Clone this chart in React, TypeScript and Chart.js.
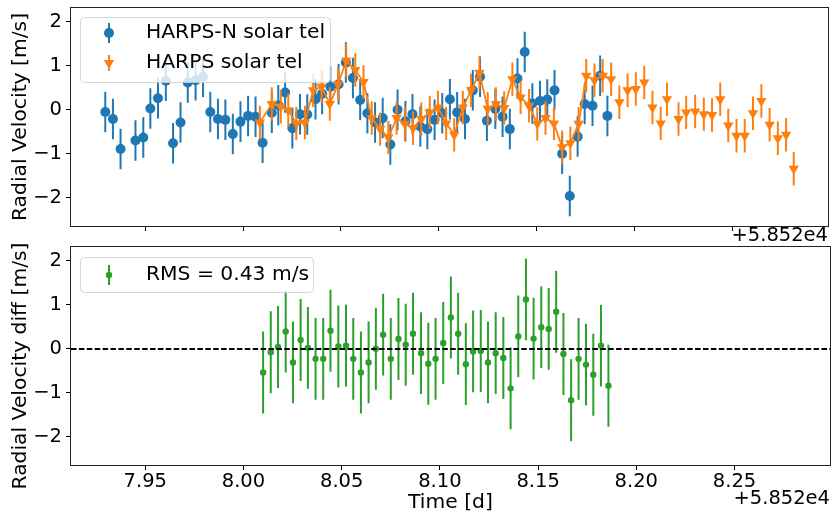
import React, { useEffect, useRef } from "react";
import { Chart, registerables } from "chart.js";

Chart.register(...registerables);

// ---------------- data (time in days, offset +58520) ----------------
const OFFSET_TEXT = "+5.852e4";
const X_TICKS = [7.95, 8.0, 8.05, 8.1, 8.15, 8.2, 8.25];
const Y_TICKS = [-2, -1, 0, 1, 2];
const X_MIN = 7.9122;
const X_MAX = 8.2986;
const Y_MIN = -2.64;
const Y_MAX = 2.31;

const HARPSN_LABEL = "HARPS-N solar tel";
const harpsNTime = [
  7.9297, 7.9336, 7.9375, 7.9451, 7.9491, 7.9527, 7.9566, 7.9606, 7.9643, 7.9681,
  7.9718, 7.9758, 7.9796, 7.9833, 7.9872, 7.991, 7.9948, 7.9987, 8.0026, 8.0064,
  8.01, 8.0147, 8.018, 8.0215, 8.0252, 8.0291, 8.0328, 8.037, 8.0404, 8.0446,
  8.0488, 8.0525, 8.0561, 8.0598, 8.0635, 8.0674, 8.0713, 8.0752, 8.0789, 8.0829,
  8.0865, 8.0905, 8.0941, 8.0978, 8.1017, 8.1056, 8.1093, 8.1133, 8.1173, 8.121,
  8.1245, 8.1288, 8.1325, 8.1362, 8.1401, 8.1438, 8.1477, 8.1516, 8.1553, 8.159,
  8.1629, 8.1668, 8.1708, 8.1744, 8.1784, 8.1823, 8.186,
];
const harpsNRv = [
  -0.05, -0.21, -0.89, -0.7, -0.63, 0.03, 0.26, 0.66, -0.76, -0.29,
  0.62, 0.67, 0.75, -0.05, -0.21, -0.23, -0.55, -0.27, -0.14, -0.16,
  -0.75, -0.07, 0.1, 0.39, -0.42, -0.1, -0.11, 0.24, 0.36, 0.52,
  0.58, 1.07, 0.72, 0.22, -0.08, -0.29, -0.19, -0.79, 0.0, -0.26,
  -0.1, -0.38, -0.44, -0.23, -0.08, 0.24, -0.06, -0.21, 0.44, 0.75,
  -0.25, 0.02, -0.16, -0.44, 0.71, 1.31, 0.14, 0.2, 0.23, 0.44,
  -1.0, -1.96, -0.61, 0.13, 0.09, 0.77, -0.14,
];
const HARPSN_ERR = 0.46;

const HARPS_LABEL = "HARPS solar tel";
const harpsTime = [
  8.0086, 8.0147, 8.0193, 8.0231, 8.0272, 8.0316, 8.0358, 8.0401, 8.0443, 8.0485,
  8.0527, 8.0573, 8.0615, 8.0657, 8.07, 8.0742, 8.0784, 8.0826, 8.0868, 8.091,
  8.0953, 8.0995, 8.1037, 8.1078, 8.1122, 8.1164, 8.1207, 8.1249, 8.1291, 8.1333,
  8.1375, 8.1417, 8.146, 8.1502, 8.1544, 8.1587, 8.1629, 8.1671, 8.1713, 8.1752,
  8.1794, 8.1836, 8.1879, 8.1921, 8.1963, 8.2005, 8.2048, 8.209, 8.2132, 8.2164,
  8.2223, 8.2262, 8.2308, 8.2352, 8.2394, 8.2436, 8.2477, 8.2519, 8.2561, 8.2603,
  8.2646, 8.2688, 8.273, 8.2772, 8.2811,
];
const harpsRv = [
  -0.29, 0.13, 0.07, -0.01, -0.31, -0.29, 0.44, 0.52, 0.13, 0.58,
  1.12, 0.9, 0.63, -0.19, -0.44, -0.63, -0.19, -0.32, -0.42, -0.21,
  -0.06, 0.05, -0.31, -0.57, 0.05, 0.44, 0.84, 0.02, 0.13, 0.04,
  0.69, 0.28, 0.09, -0.32, -0.19, -0.31, -0.85, -0.76, -0.32, 0.77,
  0.67, 0.77, 0.69, 0.17, 0.44, 0.47, 0.62, 0.05, -0.31, 0.24,
  -0.21, -0.06, -0.04, -0.1, -0.12, 0.24, -0.36, -0.59, -0.59, -0.08,
  0.2, -0.34, -0.65, -0.57, -1.34,
];
const HARPS_ERR = 0.38;
const HARPS_LINE_END = 8.185; // connecting line only over the overlap period

const DIFF_LABEL = "RMS = 0.43 m/s";
const diffTime = [
  8.01, 8.0139, 8.0176, 8.0215, 8.0252, 8.0291, 8.0328, 8.0367, 8.0406, 8.0443,
  8.0483, 8.0522, 8.0559, 8.0598, 8.0637, 8.0674, 8.0711, 8.075, 8.0789, 8.0826,
  8.0863, 8.0904, 8.0941, 8.0978, 8.1017, 8.1056, 8.1093, 8.1132, 8.1169, 8.1208,
  8.1245, 8.1284, 8.1323, 8.136, 8.1399, 8.1438, 8.1477, 8.1516, 8.1554, 8.1592,
  8.1629, 8.1668, 8.1706, 8.1744, 8.1781, 8.182, 8.1858,
];
const diffRv = [
  -0.54, -0.08, 0.04, 0.39, -0.31, 0.2, 0.02, -0.23, -0.23, 0.41,
  0.05, 0.07, -0.23, -0.54, -0.31, 0.0, 0.32, -0.23, 0.22, 0.09,
  0.34, -0.1, -0.34, -0.23, 0.13, 0.71, 0.34, -0.35, -0.06, -0.05,
  -0.31, -0.1, -0.21, -0.9, 0.28, 1.12, 0.23, 0.49, 0.45, 0.84,
  -0.12, -1.17, -0.23, -0.36, -0.59, 0.07, -0.84,
];
const DIFF_ERR = 0.93;

const Y_LABEL_TOP = "Radial Velocity [m/s]";
const Y_LABEL_BOTTOM = "Radial Velocity diff [m/s]";
const X_LABEL = "Time [d]";

// ---------------- styling ----------------
const BLUE = "#1f77b4";
const ORANGE = "#ff7f0e";
const GREEN = "#2ca02c";
const FONT = "DejaVu Sans";
const TICK_PX = 19.5;
const LABEL_PX = 20.3;
const W = 834;
const TOP_H = 246;
const BOT_TOP = 220;
const BOT_H = 295;

const toPts = (xs: number[], ys: number[]) => xs.map((x, i) => ({ x, y: ys[i] }));
const fmtY = (v: number) => (v < 0 ? "\u2212" + Math.abs(v) : String(v));

const errorBarPlugin = {
  id: "errorBars",
  beforeDatasetDraw(chart: any, args: any) {
    const ds = chart.data.datasets[args.index];
    if (ds.errors == null) return;
    const ctx = chart.ctx;
    const ys = chart.scales.y;
    const a = chart.chartArea;
    ctx.save();
    ctx.beginPath();
    ctx.rect(a.left, a.top, a.right - a.left, a.bottom - a.top);
    ctx.clip();
    ctx.beginPath();
    ctx.strokeStyle = ds.errColor;
    ctx.lineWidth = 2;
    args.meta.data.forEach((el: any, i: number) => {
      const v = ds.data[i].y;
      const e = Array.isArray(ds.errors) ? ds.errors[i] : ds.errors;
      ctx.moveTo(el.x, ys.getPixelForValue(v - e));
      ctx.lineTo(el.x, ys.getPixelForValue(v + e));
    });
    ctx.stroke();
    ctx.restore();
  },
};

function roundRect(ctx: CanvasRenderingContext2D, x: number, y: number, w: number, h: number, r: number) {
  ctx.beginPath();
  ctx.moveTo(x + r, y);
  ctx.lineTo(x + w - r, y);
  ctx.arcTo(x + w, y, x + w, y + r, r);
  ctx.lineTo(x + w, y + h - r);
  ctx.arcTo(x + w, y + h, x + w - r, y + h, r);
  ctx.lineTo(x + r, y + h);
  ctx.arcTo(x, y + h, x, y + h - r, r);
  ctx.lineTo(x, y + r);
  ctx.arcTo(x, y, x + r, y, r);
  ctx.closePath();
}

function drawMarker(ctx: CanvasRenderingContext2D, style: string, x: number, y: number, r: number, color: string) {
  ctx.fillStyle = color;
  ctx.beginPath();
  if (style === "circle") {
    ctx.arc(x, y, r, 0, Math.PI * 2);
  } else {
    const w = r * Math.sqrt(3);
    ctx.moveTo(x - w / 2, y - r / 2);
    ctx.lineTo(x + w / 2, y - r / 2);
    ctx.lineTo(x, y + r);
    ctx.closePath();
  }
  ctx.fill();
}

// frame, axis titles, offset text, legend, reference line
const decorPlugin = {
  id: "decor",
  afterDatasetsDraw(chart: any, _args: any, opts: any) {
    const ctx: CanvasRenderingContext2D = chart.ctx;
    const a = chart.chartArea;
    ctx.save();
    if (opts.zeroLine) {
      const y0 = Math.round(chart.scales.y.getPixelForValue(0));
      ctx.strokeStyle = "#000";
      ctx.lineWidth = 2;
      ctx.setLineDash([5.5, 2.4]);
      ctx.beginPath();
      ctx.moveTo(a.left, y0);
      ctx.lineTo(a.right, y0);
      ctx.stroke();
      ctx.setLineDash([]);
    }
    // frame
    ctx.strokeStyle = "#222";
    ctx.lineWidth = 1;
    ctx.strokeRect(Math.round(a.left) - 0.5, Math.round(a.top) - 0.5, Math.round(a.right - a.left) + 1, Math.round(a.bottom - a.top) + 1);
    ctx.fillStyle = "#000";
    // y title
    ctx.save();
    ctx.font = `${LABEL_PX}px "${FONT}"`;
    ctx.textAlign = "center";
    ctx.textBaseline = "middle";
    ctx.translate(opts.yTitleX, (a.top + a.bottom) / 2 + (opts.yTitleShift || 0));
    ctx.rotate(-Math.PI / 2);
    ctx.fillText(opts.yTitle, 0, 0);
    ctx.restore();
    // x title
    if (opts.xTitle) {
      ctx.font = `${LABEL_PX}px "${FONT}"`;
      ctx.textAlign = "center";
      ctx.textBaseline = "middle";
      ctx.fillText(opts.xTitle, (a.left + a.right) / 2, opts.xTitleY);
    }
    // offset text
    ctx.font = `${TICK_PX}px "${FONT}"`;
    ctx.textAlign = "right";
    ctx.textBaseline = "middle";
    ctx.fillText(OFFSET_TEXT, a.right, opts.offsetY);
    // legend
    const L = opts.legend;
    roundRect(ctx, L.x + 0.5, L.y + 0.5, L.w, L.h, 4);
    ctx.fillStyle = "rgba(255,255,255,0.8)";
    ctx.fill();
    ctx.strokeStyle = "rgba(204,204,204,0.8)";
    ctx.lineWidth = 1;
    ctx.stroke();
    L.entries.forEach((en: any) => {
      ctx.strokeStyle = en.color;
      ctx.lineWidth = 2;
      ctx.beginPath();
      ctx.moveTo(L.mx, en.y - en.eh);
      ctx.lineTo(L.mx, en.y + en.eh);
      ctx.stroke();
      drawMarker(ctx, en.style, L.mx, en.y, en.r, en.color);
      ctx.fillStyle = "#000";
      ctx.font = `${LABEL_PX}px "${FONT}"`;
      ctx.textAlign = "left";
      ctx.textBaseline = "middle";
      ctx.fillText(en.label, L.tx, en.y);
    });
    ctx.restore();
  },
};

function xScale(showLabels: boolean, height: number) {
  return {
    type: "linear",
    position: "bottom",
    min: X_MIN,
    max: X_MAX,
    afterBuildTicks: (s: any) => {
      s.ticks = X_TICKS.map((v) => ({ value: v }));
    },
    afterFit: (s: any) => {
      s.height = height;
      s.paddingLeft = 0;
      s.paddingRight = 0;
      s.paddingTop = 0;
      s.paddingBottom = 0;
    },
    grid: { display: true, drawOnChartArea: false, drawTicks: true, tickLength: 5, color: "#000", lineWidth: 1 },
    border: { display: false },
    ticks: {
      display: showLabels,
      color: "#000",
      font: { family: FONT, size: TICK_PX },
      padding: 0,
      maxRotation: 0,
      autoSkip: false,
      callback: (v: any) => Number(v).toFixed(2),
    },
    title: { display: false },
  };
}

function yScale() {
  return {
    type: "linear",
    min: Y_MIN,
    max: Y_MAX,
    afterBuildTicks: (s: any) => {
      s.ticks = Y_TICKS.map((v) => ({ value: v }));
    },
    afterFit: (s: any) => {
      s.width = 71;
      s.paddingLeft = 0;
      s.paddingRight = 0;
      s.paddingTop = 0;
      s.paddingBottom = 0;
    },
    grid: { display: true, drawOnChartArea: false, drawTicks: true, tickLength: 5, color: "#000", lineWidth: 1 },
    border: { display: false },
    ticks: {
      color: "#000",
      font: { family: FONT, size: TICK_PX },
      padding: 4,
      autoSkip: false,
      callback: (v: any) => fmtY(Number(v)),
    },
    title: { display: false },
  };
}

export default function App() {
  const topRef = useRef<HTMLCanvasElement>(null);
  const botRef = useRef<HTMLCanvasElement>(null);

  useEffect(() => {
    const common = {
      responsive: false,
      animation: false,
      devicePixelRatio: 1,
      events: [],
    };
    const top = new Chart(topRef.current as HTMLCanvasElement, {
      type: "scatter",
      data: {
        datasets: [
          {
            label: HARPSN_LABEL,
            data: toPts(harpsNTime, harpsNRv),
            showLine: false,
            pointStyle: "circle",
            pointRadius: 5,
            pointBackgroundColor: BLUE,
            pointBorderWidth: 0,
            borderColor: BLUE,
            backgroundColor: BLUE,
            order: 2,
            errors: HARPSN_ERR,
            errColor: BLUE,
          } as any,
          {
            label: HARPS_LABEL,
            data: toPts(harpsTime, harpsRv),
            showLine: true,
            borderColor: ORANGE,
            borderWidth: 1.8,
            segment: {
              borderColor: (c: any) => (c.p0.parsed.x > HARPS_LINE_END ? "rgba(0,0,0,0)" : ORANGE),
            },
            pointStyle: "triangle",
            pointRotation: 180,
            pointRadius: 6,
            pointBackgroundColor: ORANGE,
            pointBorderWidth: 0,
            backgroundColor: ORANGE,
            order: 1,
            errors: HARPS_ERR,
            errColor: ORANGE,
          } as any,
        ],
      },
      options: {
        ...common,
        layout: { padding: { top: 8, right: 2, left: 0, bottom: 0 } },
        scales: { x: xScale(false, 20), y: yScale() } as any,
        plugins: {
          legend: { display: false },
          tooltip: { enabled: false },
          decor: {
            yTitle: Y_LABEL_TOP,
            yTitleX: 20.5,
            offsetY: 236,
            legend: {
              x: 80,
              y: 17,
              w: 250,
              h: 65,
              mx: 109,
              tx: 146,
              entries: [
                { label: HARPSN_LABEL, color: BLUE, style: "circle", r: 5, eh: 10, y: 33 },
                { label: HARPS_LABEL, color: ORANGE, style: "triangle", r: 6, eh: 8, y: 63 },
              ],
            },
          },
        } as any,
      } as any,
      plugins: [errorBarPlugin, decorPlugin],
    });

    const bot = new Chart(botRef.current as HTMLCanvasElement, {
      type: "scatter",
      data: {
        datasets: [
          {
            label: DIFF_LABEL,
            data: toPts(diffTime, diffRv),
            showLine: false,
            pointStyle: "circle",
            pointRadius: 3.2,
            pointBackgroundColor: GREEN,
            pointBorderWidth: 0,
            borderColor: GREEN,
            backgroundColor: GREEN,
            errors: DIFF_ERR,
            errColor: GREEN,
          } as any,
        ],
      },
      options: {
        ...common,
        layout: { padding: { top: 247 - BOT_TOP, right: 2, left: 0, bottom: 0 } },
        scales: { x: xScale(true, 50), y: yScale() } as any,
        plugins: {
          legend: { display: false },
          tooltip: { enabled: false },
          decor: {
            zeroLine: true,
            yTitle: Y_LABEL_BOTTOM,
            yTitleX: 20.5,
            yTitleShift: 10,
            xTitle: X_LABEL,
            xTitleY: 503 - BOT_TOP,
            offsetY: 499 - BOT_TOP,
            legend: {
              x: 80,
              y: 257 - BOT_TOP,
              w: 233,
              h: 35,
              mx: 109,
              tx: 146,
              entries: [{ label: DIFF_LABEL, color: GREEN, style: "circle", r: 3.2, eh: 10, y: 275 - BOT_TOP }],
            },
          },
        } as any,
      } as any,
      plugins: [errorBarPlugin, decorPlugin],
    });

    return () => {
      top.destroy();
      bot.destroy();
    };
  }, []);

  return (
    <div style={{ position: "absolute", left: 0, top: 0, width: W, height: 515, background: "#fff" }}>
      <canvas ref={topRef} width={W} height={TOP_H} style={{ position: "absolute", left: 0, top: 0, width: W, height: TOP_H }} />
      <canvas ref={botRef} width={W} height={BOT_H} style={{ position: "absolute", left: 0, top: BOT_TOP, width: W, height: BOT_H }} />
    </div>
  );
}
